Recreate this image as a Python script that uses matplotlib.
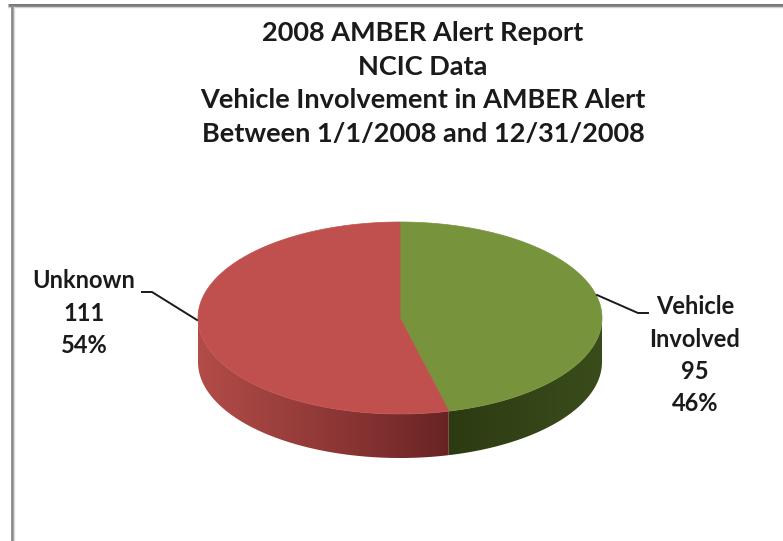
import numpy as np
import matplotlib.pyplot as plt
from matplotlib.colors import to_rgb
from matplotlib.patches import Polygon

plt.rcParams['font.family'] = ['Lato', 'DejaVu Sans']

# data
categories = ["Vehicle\nInvolved", "Unknown"]
counts = [95, 111]
top_colors = ["#77933C", "#C0504D"]
side_colors = [("#2C3A12", "#3A4C1B"), ("#682323", "#B24C48")]
title_lines = [
    "2008 AMBER Alert Report",
    "NCIC Data",
    "Vehicle Involvement in AMBER Alert",
    "Between 1/1/2008 and 12/31/2008",
]

# pie geometry (pixels)
cx, cy = 400, 318
a, b = 202, 96
depth = 44

fig = plt.figure(figsize=(7.83, 5.41), dpi=100)
ax = fig.add_axes([0, 0, 1, 1])
ax.set_xlim(0, 783)
ax.set_ylim(541, 0)
ax.axis("off")

# frame of the original screenshot
ax.plot([8, 783], [5, 5], color="#7a7a7a", lw=2.2, solid_capstyle="butt")
ax.plot([8, 783], [7, 7], color="#d0d0d0", lw=1.0)
ax.plot([11.5, 11.5], [5, 541], color="#8a8a8a", lw=2.0, solid_capstyle="butt")
ax.plot([14, 14], [7, 541], color="#dedede", lw=1.0)


def ell(phi, dy=0.0):
    phi = np.radians(phi)
    return cx + a * np.sin(phi), cy - b * np.cos(phi) + dy


total = float(sum(counts))
bounds = np.concatenate([[0], np.cumsum(counts) / total * 360.0])
split_x = ell(bounds[1])[0]

# side walls (front half only, 90..270 deg clockwise from top), gradient fill
for i in range(len(counts)):
    lo = max(bounds[i], 90.0)
    hi = min(bounds[i + 1], 270.0)
    if hi <= lo:
        continue
    phis = np.linspace(lo, hi, 200)
    xs, ys = ell(phis)
    pts = list(zip(xs, ys)) + list(zip(xs[::-1], ys[::-1] + depth))
    poly = Polygon(pts, closed=True, facecolor="none", edgecolor="none")
    ax.add_patch(poly)
    x0, x1 = xs.min(), xs.max()
    gx = np.linspace(x0, x1, 300)
    t = np.clip(np.abs(gx - split_x) / (x1 - x0), 0, 1) ** 0.9
    c_dark = np.array(to_rgb(side_colors[i][0]))
    c_light = np.array(to_rgb(side_colors[i][1]))
    row = c_dark[None, :] + (c_light - c_dark)[None, :] * t[:, None]
    img = np.repeat(row[None, :, :], 2, axis=0)
    im = ax.imshow(img, extent=(x0, x1, ys.max() + depth, ys.min()),
                   aspect="auto", interpolation="bilinear", zorder=1)
    im.set_clip_path(poly)

ax.set_xlim(0, 783)
ax.set_ylim(541, 0)

# top faces
for i in range(len(counts)):
    phis = np.linspace(bounds[i], bounds[i + 1], 200)
    xs, ys = ell(phis)
    pts = [(cx, cy)] + list(zip(xs, ys))
    ax.add_patch(Polygon(pts, closed=True, facecolor=top_colors[i],
                         edgecolor=top_colors[i], lw=0.5, zorder=2))

# title
for k, line in enumerate(title_lines):
    ax.text(423, 33 + k * 33.7, line, ha="center", va="center",
            fontsize=19.5, fontweight="bold", color="#1a1a1a")

# data labels with leader lines
pct = [round(c / total * 100) for c in counts]
label_pos = [(695, 307), (84, 281)]
leaders = [
    [(597, 295), (638, 313), (648, 313)],
    [(142, 292), (152, 292), (197, 320)],
]
for i in range(len(counts)):
    lines = categories[i].split("\n") + [str(counts[i]), f"{pct[i]}%"]
    lx, ly = label_pos[i]
    for k, s in enumerate(lines):
        ax.text(lx, ly + k * 32.3, s, ha="center", va="center",
                fontsize=17, fontweight="bold", color="#1a1a1a")
    xs, ys = zip(*leaders[i])
    ax.plot(xs, ys, color="#1a1a1a", lw=1.4, zorder=3)

fig.savefig("out.png", dpi=100)
